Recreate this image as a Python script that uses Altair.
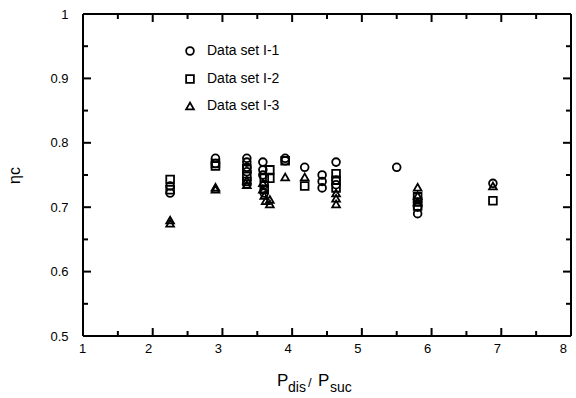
import altair as alt
import pandas as pd

# Compressor efficiency vs. pressure ratio, three data sets
set1_x = [2.25, 2.25, 2.9, 2.9, 3.35, 3.35, 3.35, 3.35, 3.58, 3.58, 3.58, 3.6, 3.6,
          3.9, 3.9, 4.18, 4.43, 4.43, 4.43, 4.63, 4.63, 4.63, 5.5, 5.8, 5.8, 6.88]
set1_y = [0.733, 0.722, 0.776, 0.768, 0.776, 0.770, 0.762, 0.755, 0.770, 0.758, 0.750, 0.735, 0.722,
          0.776, 0.772, 0.762, 0.750, 0.740, 0.730, 0.770, 0.742, 0.735, 0.762, 0.700, 0.690, 0.737]

set2_x = [2.25, 2.25, 2.9, 2.9, 3.35, 3.35, 3.35, 3.6, 3.6, 3.68, 3.68, 3.9, 4.18,
          4.63, 4.63, 4.63, 5.8, 5.8, 5.8, 6.88]
set2_y = [0.743, 0.727, 0.768, 0.764, 0.760, 0.748, 0.740, 0.745, 0.728, 0.758, 0.745, 0.772, 0.733,
          0.752, 0.742, 0.730, 0.716, 0.708, 0.702, 0.710]

set3_x = [2.25, 2.25, 2.9, 2.9, 3.35, 3.35, 3.58, 3.58, 3.6, 3.62, 3.68, 3.68, 3.9, 4.18,
          4.63, 4.63, 4.63, 5.8, 5.8, 5.8, 6.88]
set3_y = [0.680, 0.675, 0.731, 0.728, 0.742, 0.735, 0.738, 0.728, 0.718, 0.710, 0.712, 0.705, 0.747, 0.747,
          0.722, 0.714, 0.705, 0.731, 0.718, 0.708, 0.733]

series_names = ["Data set I-1", "Data set I-2", "Data set I-3"]

x_major = [1, 2, 3, 4, 5, 6, 7, 8]
x_minor = [1.5, 2.5, 3.5, 4.5, 5.5, 6.5, 7.5]
y_major = [0.5, 0.6, 0.7, 0.8, 0.9, 1.0]
y_minor = [0.55, 0.65, 0.75, 0.85, 0.95]

W, H = 488, 322
FONT = "Liberation Sans"

rows = []
for name, xs, ys in zip(series_names, [set1_x, set2_x, set3_x], [set1_y, set2_y, set3_y]):
    for a, b in zip(xs, ys):
        rows.append({"ratio": a, "eff": b, "set": name})
df = pd.DataFrame(rows)

xscale = alt.Scale(domain=[1, 8], nice=False, zero=False)
yscale = alt.Scale(domain=[0.5, 1.0], nice=False, zero=False)

# One shared axis definition per channel, used by every layer
xaxis = alt.Axis(values=x_major, format="d", title=None, domain=False, ticks=False, grid=False,
                 labelFontSize=13, labelFont=FONT, labelColor="black", labelPadding=11,
                 translate=-4)
yaxis = alt.Axis(values=y_major, format=".1~f", title="ηc", domain=False, ticks=False, grid=False,
                 labelFontSize=13, labelFont=FONT, labelColor="black", labelPadding=15,
                 titleFontSize=16, titleFont=FONT, titleFontWeight="normal", titleColor="black",
                 titlePadding=27)


def xenc(field):
    return alt.X(field, type="quantitative", scale=xscale, axis=xaxis)


def yenc(field):
    return alt.Y(field, type="quantitative", scale=yscale, axis=yaxis)


points = alt.Chart(df).mark_point(filled=False, strokeWidth=1.8, size=60, color="black", opacity=1).encode(
    x=xenc("ratio"),
    y=yenc("eff"),
    shape=alt.Shape("set:N",
                    scale=alt.Scale(domain=series_names, range=["circle", "square", "triangle-up"]),
                    legend=alt.Legend(orient="none", legendX=100, legendY=30, title=None, padding=0,
                                      labelFontSize=14, labelFont=FONT, labelColor="black",
                                      labelOffset=10, rowPadding=12, symbolSize=60,
                                      symbolStrokeWidth=1.8, symbolStrokeColor="black",
                                      symbolFillColor="transparent")),
)

# Frame and inward-pointing ticks on all four sides, drawn as rules
frame = [
    alt.Chart(pd.DataFrame({"v": [1, 8]})).mark_rule(color="black", strokeWidth=2).encode(x=xenc("v")),
    alt.Chart(pd.DataFrame({"v": [0.5, 1.0]})).mark_rule(color="black", strokeWidth=2).encode(y=yenc("v")),
]


def xticks(vals, length):
    base = alt.Chart(pd.DataFrame({"v": vals})).mark_rule(color="black", strokeWidth=2)
    bottom = base.encode(x=xenc("v"), y=alt.value(H), y2=alt.value(H - length))
    top = base.encode(x=xenc("v"), y=alt.value(0), y2=alt.value(length))
    return [bottom, top]


def yticks(vals, length):
    base = alt.Chart(pd.DataFrame({"v": vals})).mark_rule(color="black", strokeWidth=2)
    left = base.encode(y=yenc("v"), x=alt.value(0), x2=alt.value(length))
    right = base.encode(y=yenc("v"), x=alt.value(W), x2=alt.value(W - length))
    return [left, right]


ticks = xticks(x_major, 8) + xticks(x_minor, 5) + yticks(y_major, 8) + yticks(y_minor, 5)

# x-axis title with subscripts: P_dis / P_suc
title_parts = [
    ("P", 194, 372, 17),
    ("dis", 205, 378, 14),
    ("/", 225, 373, 13),
    ("P", 235, 372, 17),
    ("suc", 247, 378, 14),
]
title_layers = [
    alt.Chart(pd.DataFrame({"t": [t]})).mark_text(
        align="left", baseline="alphabetic", font=FONT, fontSize=fs, color="black"
    ).encode(text="t:N", x=alt.value(px), y=alt.value(py))
    for t, px, py, fs in title_parts
]

chart = alt.layer(points, *frame, *ticks, *title_layers).properties(
    width=W, height=H,
    autosize=alt.AutoSizeParams(type="none"),
    padding={"left": 83, "top": 14, "right": 5, "bottom": 62},
    background="white",
).configure_view(stroke=None)

chart.save("out.html", embed_options={"renderer": "svg", "actions": False})
